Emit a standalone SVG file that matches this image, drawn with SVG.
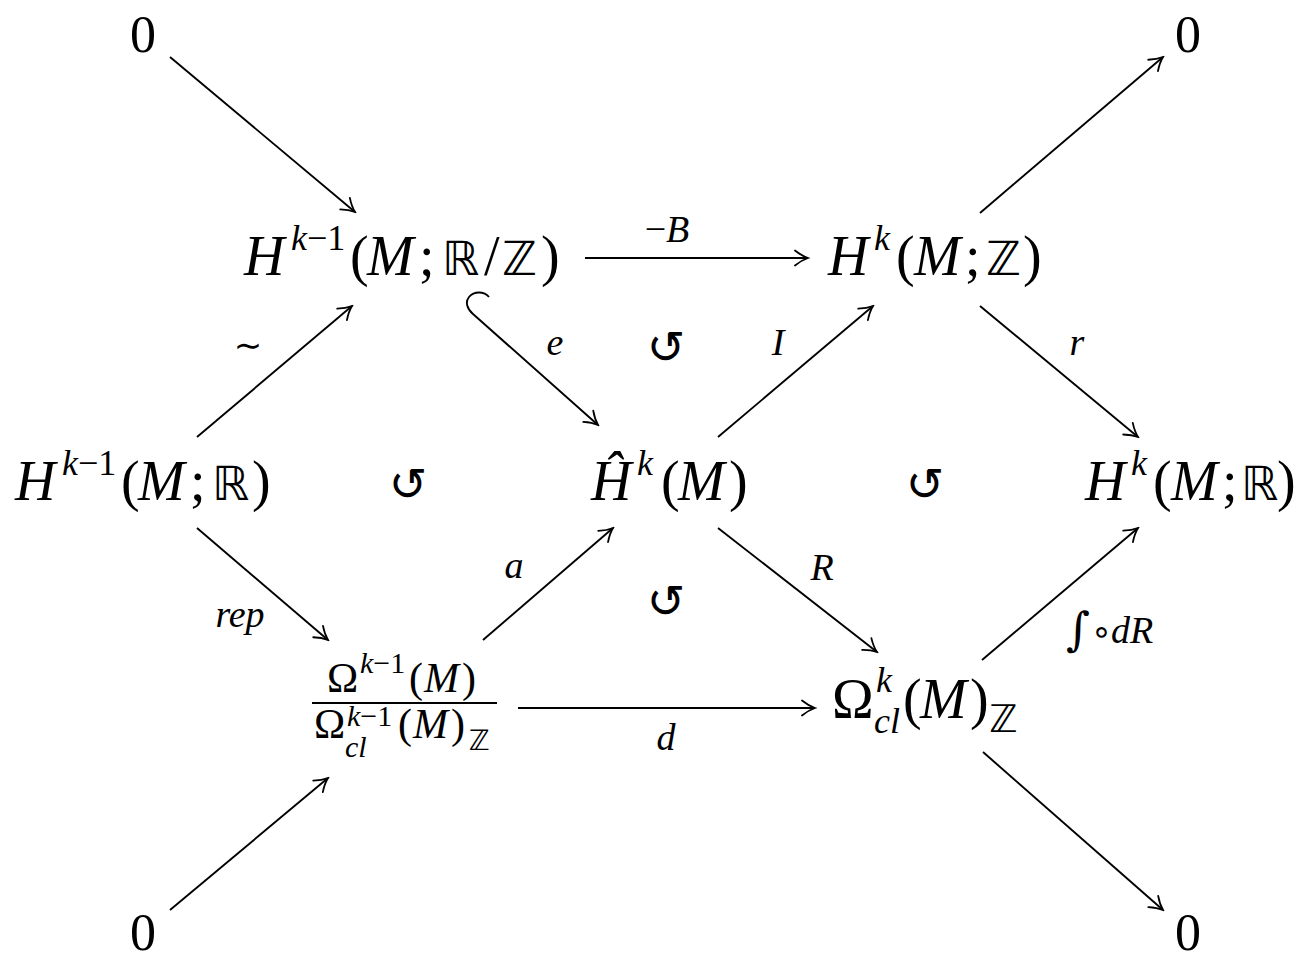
<svg xmlns="http://www.w3.org/2000/svg" width="1301" height="961" viewBox="0 0 1301 961">
<defs>
<style>
.m{font-family:'Liberation Serif','DejaVu Serif',serif;font-size:56px;fill:#000}
.i{font-style:italic}
.bb{font-family:'DejaVu Sans',sans-serif;font-size:47px}
.sup{font-size:36px}
.z{font-family:'Liberation Serif',serif;font-size:52px;text-anchor:middle}
.lab{font-family:'Liberation Serif','DejaVu Serif',serif;font-size:38px;font-style:italic;text-anchor:middle}
.fr{font-family:'Liberation Serif','DejaVu Serif',serif;font-size:42px}
.fs{font-size:30px}
.ca{font-family:'DejaVu Sans',sans-serif;font-size:46px;text-anchor:middle}
.c line,.c path{stroke:#000;stroke-width:1.9;fill:none;marker-end:url(#ah)}
</style>
<marker id="ah" viewBox="-15 -10 17 20" refX="0" refY="0" markerWidth="17" markerHeight="20" orient="auto" markerUnits="userSpaceOnUse">
<path d="M -13 -7.5 C -8 -3.5 -3 -1 0 0 C -3 1 -8 3.5 -13 7.5" fill="none" stroke="#000" stroke-width="1.8" stroke-linecap="round"/>
</marker>
</defs>
<rect width="1301" height="961" fill="#fff"/>

<g id="zero-tl"><text class="z" x="143" y="52">0</text></g>
<g id="zero-tr"><text class="z" x="1188" y="52">0</text></g>
<g id="zero-bl"><text class="z" x="143" y="950">0</text></g>
<g id="zero-br"><text class="z" x="1188" y="950">0</text></g>

<g id="n-HkmRZ"><text class="m" y="275"><tspan class="i" x="244">H</tspan><tspan class="sup i" x="291" y="250">k</tspan><tspan class="sup" y="250">−1</tspan><tspan x="350" y="275">(</tspan><tspan class="i" x="367">M</tspan><tspan x="419">;</tspan><tspan class="bb" x="442">ℝ</tspan><tspan x="484">/</tspan><tspan class="bb" x="502">ℤ</tspan><tspan x="541">)</tspan></text></g>

<g id="n-HkZ"><text class="m" y="275"><tspan class="i" x="828">H</tspan><tspan class="sup i" x="874" y="250">k</tspan><tspan x="896" y="275">(</tspan><tspan class="i" x="914">M</tspan><tspan x="965">;</tspan><tspan class="bb" x="986">ℤ</tspan><tspan x="1023">)</tspan></text></g>

<g id="n-HkmR"><text class="m" y="500"><tspan class="i" x="15">H</tspan><tspan class="sup i" x="62" y="475">k</tspan><tspan class="sup" y="475">−1</tspan><tspan x="121" y="500">(</tspan><tspan class="i" x="138">M</tspan><tspan x="190">;</tspan><tspan class="bb" x="212">ℝ</tspan><tspan x="252">)</tspan></text></g>

<g id="n-Hhat"><text class="m" y="500"><tspan class="i" x="591">Ĥ</tspan><tspan class="sup i" x="637" y="475">k</tspan><tspan x="661" y="500">(</tspan><tspan class="i" x="678">M</tspan><tspan x="729">)</tspan></text></g>

<g id="n-HkR"><text class="m" y="500"><tspan class="i" x="1085">H</tspan><tspan class="sup i" x="1131" y="475">k</tspan><tspan x="1153" y="500">(</tspan><tspan class="i" x="1171">M</tspan><tspan x="1222">;</tspan><tspan class="bb" x="1241">ℝ</tspan><tspan x="1277">)</tspan></text></g>

<g id="n-frac">
<text class="fr" y="692"><tspan x="327">Ω</tspan><tspan class="fs i" x="360" y="673">k</tspan><tspan class="fs" y="673">−1</tspan><tspan x="409" y="692">(</tspan><tspan class="i" x="424">M</tspan><tspan x="462">)</tspan></text>
<line x1="312" y1="703" x2="497" y2="703" stroke="#000" stroke-width="2"/>
<text class="fr" y="738"><tspan x="314">Ω</tspan><tspan class="fs i" x="347" y="726">k</tspan><tspan class="fs" y="726">−1</tspan><tspan class="fs i" x="345" y="757">cl</tspan><tspan x="398" y="738">(</tspan><tspan class="i" x="413">M</tspan><tspan x="451">)</tspan><tspan style="font-family:'DejaVu Sans',sans-serif;font-size:28px" x="469" y="750">ℤ</tspan></text>
</g>

<g id="n-Omega"><text class="m" y="718"><tspan x="832">Ω</tspan><tspan class="sup i" x="876" y="692">k</tspan><tspan class="sup i" x="874" y="733">cl</tspan><tspan x="903" y="718">(</tspan><tspan class="i" x="920">M</tspan><tspan x="970">)</tspan><tspan style="font-family:'DejaVu Sans',sans-serif;font-size:38px" x="989" y="732">ℤ</tspan></text></g>

<g id="connectors" class="c">
<line x1="170" y1="57" x2="355" y2="212"/>
<line x1="585" y1="258" x2="808" y2="258"/>
<line x1="980" y1="213" x2="1163" y2="57"/>
<line x1="197" y1="437" x2="352" y2="306"/>
<path d="M 489 297 C 484 291 474 291 469 297 C 465 302 467 309 473 314 L 598 425"/>
<line x1="718" y1="437" x2="873" y2="306"/>
<line x1="980" y1="306" x2="1138" y2="437"/>
<line x1="197" y1="528" x2="328" y2="640"/>
<line x1="483" y1="640" x2="613" y2="528"/>
<line x1="718" y1="528" x2="877" y2="652"/>
<line x1="982" y1="660" x2="1138" y2="528"/>
<line x1="518" y1="708" x2="815" y2="708"/>
<line x1="170" y1="910" x2="328" y2="778"/>
<line x1="983" y1="752" x2="1163" y2="910"/>
</g>

<g id="labels">
<text class="lab" x="667" y="242"><tspan style="font-style:normal">−</tspan>B</text>
<text x="248" y="357" style="font-family:'DejaVu Sans',sans-serif;font-size:34px;text-anchor:middle">∼</text>
<text class="lab" x="555" y="355">e</text>
<text class="lab" x="778" y="355">I</text>
<text class="lab" x="1077" y="355">r</text>
<text class="lab" x="240" y="627">rep</text>
<text class="lab" x="514" y="578">a</text>
<text class="lab" x="822" y="580">R</text>
<text class="lab" x="666" y="750">d</text>
<text x="1066" y="645" style="font-family:'Liberation Serif','DejaVu Serif',serif;font-size:38px;font-style:italic"><tspan style="font-style:normal;font-family:'DejaVu Serif',serif;font-size:46px">∫</tspan><tspan x="1091" y="643" style="font-style:normal;font-family:'DejaVu Sans',sans-serif;font-size:34px">∘</tspan><tspan x="1111" y="643">dR</tspan></text>
</g>

<g id="commute">
<text class="ca" x="666" y="363">↺</text>
<text class="ca" x="408" y="500">↺</text>
<text class="ca" x="925" y="500">↺</text>
<text class="ca" x="666" y="617">↺</text>
</g>
</svg>
